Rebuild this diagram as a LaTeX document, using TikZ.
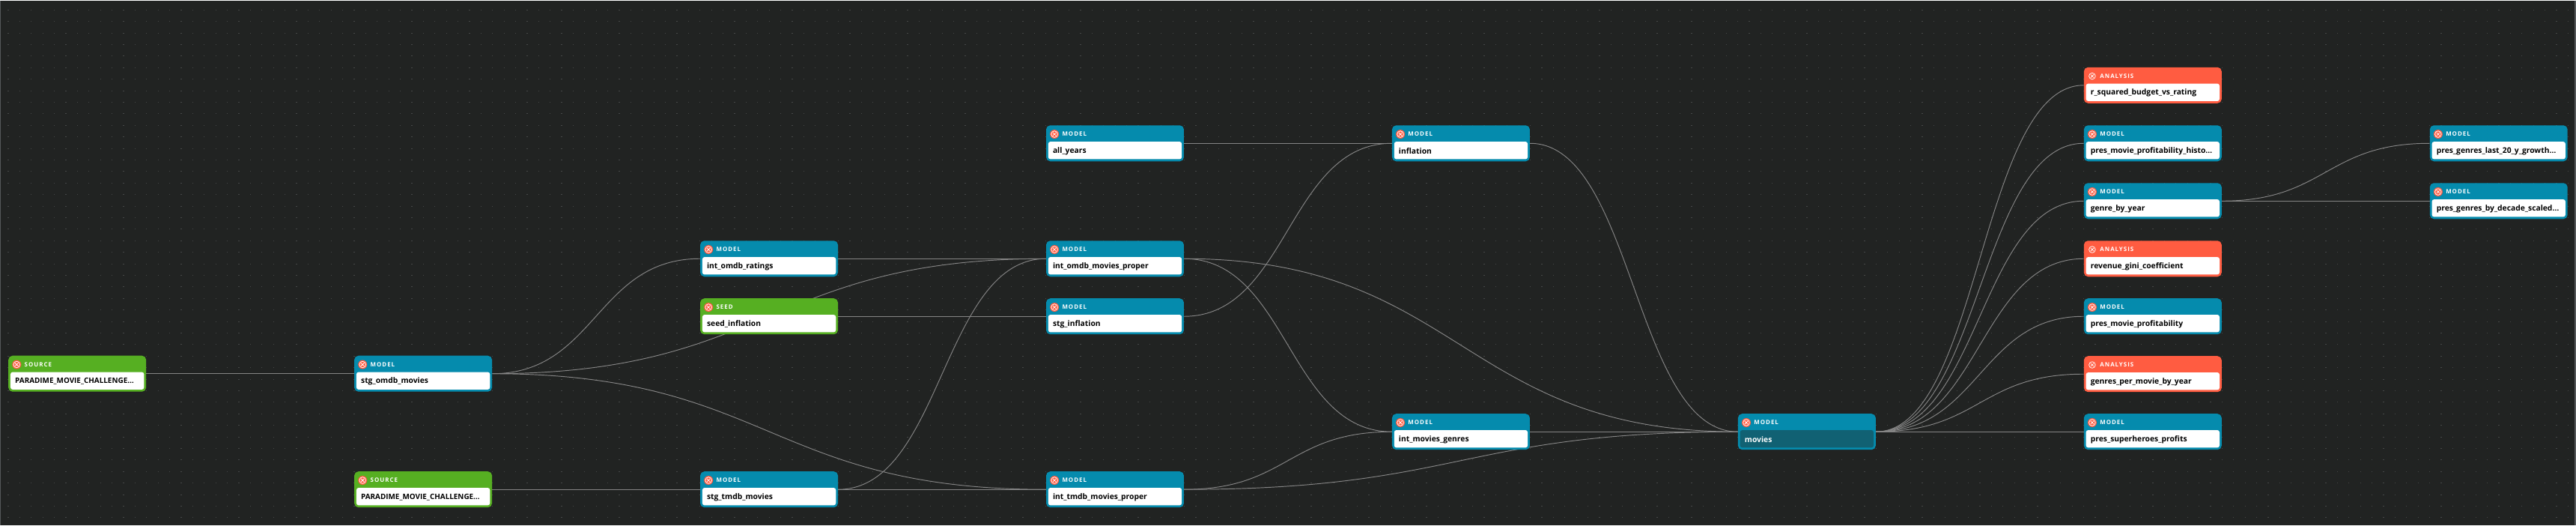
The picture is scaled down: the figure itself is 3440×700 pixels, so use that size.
\documentclass[tikz,border=0pt]{standalone}
\usepackage{fontspec}
\setmainfont{Open Sans}
\usetikzlibrary{calc,backgrounds}
\definecolor{canvas}{HTML}{212322}
\definecolor{griddot}{HTML}{454747}
\definecolor{framecol}{HTML}{55585A}
\definecolor{modelcol}{HTML}{058BAD}
\definecolor{sourcecol}{HTML}{56AF22}
\definecolor{analysiscol}{HTML}{FF5C41}
\definecolor{activecol}{HTML}{116173}
\definecolor{edgecol}{HTML}{858585}
\colorlet{cardbody}{white}
\colorlet{cardtext}{black}
\tikzset{
  x=1pt, y=-1pt,
  edge/.style={draw=edgecol, line width=.95pt},
  card/.style={minimum width=184pt, minimum height=48pt, rounded corners=5.5pt, inner sep=0pt},
  tagtext/.style={anchor=west, inner sep=0pt, text=white, font=\fontsize{7.9}{10}\selectfont\bfseries\addfontfeature{LetterSpace=13}},
  nametext/.style={anchor=west, inner sep=0pt, text=cardtext, font=\fontsize{10.3}{12}\selectfont\bfseries},
}
% card: name, left, top, colour, tag, text
\newcommand{\card}[6]{
  \node[card, anchor=north west, fill=#4] (#1) at (#2,#3) {};
  \fill[cardbody, rounded corners=3pt] ($(#1.north west)+(3,22)$) rectangle ($(#1.south east)+(-3,-3)$);
  \fill[analysiscol] ($(#1.north west)+(11.3,12)$) circle (6pt);
  \draw[white, line width=.75pt] ($(#1.north west)+(11.3,12)$) circle (4.3pt);
  \draw[white, line width=.75pt] ($(#1.north west)+(9.2,9.9)$) -- +(4.2,4.2) ($(#1.north west)+(13.4,9.9)$) -- +(-4.2,4.2);
  \node[tagtext] (#1tag) at ($(#1.north west)+(21.5,12)$) {#5};
  \node[nametext] (#1name) at ($(#1.north west)+(9,34.5)$) {#6};
}
\newcommand{\capsname}{\fontsize{9.9}{12}\selectfont PARADIME\_MOVIE\_CHALLENGE…}
\begin{document}
\begin{tikzpicture}
  \begin{pgfonlayer}{background}
    \fill[canvas] (0,0) rectangle (3440,700);
    \foreach \yy in {0,...,44}
      \draw[griddot, line width=1pt, dash pattern=on 1.2pt off 14.2pt] (10.4,12.7+15.4*\yy) -- (3440,12.7+15.4*\yy);
    \draw[framecol, line width=1.2pt] (.6,0) -- (.6,700) (3439.4,0) -- (3439.4,700);
  \end{pgfonlayer}
  \useasboundingbox (0,0) rectangle (3440,700);

  \card{srcomdb}{11}{474}{sourcecol}{SOURCE}{\capsname}
  \card{stgomdb}{473}{474}{modelcol}{MODEL}{stg\_omdb\_movies}
  \card{srctmdb}{473}{628.5}{sourcecol}{SOURCE}{\capsname}
  \card{intratings}{935}{320.5}{modelcol}{MODEL}{int\_omdb\_ratings}
  \card{seedinfl}{935}{397.5}{sourcecol}{SEED}{seed\_inflation}
  \card{stgtmdb}{935}{628.5}{modelcol}{MODEL}{stg\_tmdb\_movies}
  \card{allyears}{1397}{166.5}{modelcol}{MODEL}{all\_years}
  \card{intomdb}{1397}{320.5}{modelcol}{MODEL}{int\_omdb\_movies\_proper}
  \card{stginfl}{1397}{397.5}{modelcol}{MODEL}{stg\_inflation}
  \card{inttmdb}{1397}{628.5}{modelcol}{MODEL}{int\_tmdb\_movies\_proper}
  \card{inflation}{1859}{166.5}{modelcol}{MODEL}{inflation}
  \card{intgenres}{1859}{551.5}{modelcol}{MODEL}{int\_movies\_genres}
  \colorlet{cardbody}{activecol}
  \colorlet{cardtext}{white}
  \card{movies}{2321}{551.5}{modelcol}{MODEL}{movies}
  \colorlet{cardbody}{white}
  \colorlet{cardtext}{black}
  \card{rsquared}{2783}{89}{analysiscol}{ANALYSIS}{r\_squared\_budget\_vs\_rating}
  \card{profhist}{2783}{166.5}{modelcol}{MODEL}{pres\_movie\_profitability\_histo…}
  \card{genreyear}{2783}{243.5}{modelcol}{MODEL}{genre\_by\_year}
  \card{gini}{2783}{320.5}{analysiscol}{ANALYSIS}{revenue\_gini\_coefficient}
  \card{profit}{2783}{397.5}{modelcol}{MODEL}{pres\_movie\_profitability}
  \card{genresmovie}{2783}{474.5}{analysiscol}{ANALYSIS}{genres\_per\_movie\_by\_year}
  \card{heroes}{2783}{551.5}{modelcol}{MODEL}{pres\_superheroes\_profits}
  \card{growth}{3245}{166.5}{modelcol}{MODEL}{pres\_genres\_last\_20\_y\_growth…}
  \card{decade}{3245}{243.5}{modelcol}{MODEL}{pres\_genres\_by\_decade\_scaled…}

  \begin{pgfonlayer}{background}
    \foreach \src/\dst in {srcomdb/stgomdb, srctmdb/stgtmdb, stgomdb/intratings, stgomdb/intomdb,
        stgomdb/inttmdb, intratings/intomdb, seedinfl/stginfl, stgtmdb/intomdb, stgtmdb/inttmdb,
        allyears/inflation, stginfl/inflation, inflation/movies, intomdb/movies, intomdb/intgenres,
        inttmdb/intgenres, inttmdb/movies, intgenres/movies, movies/rsquared, movies/profhist,
        movies/genreyear, movies/gini, movies/profit, movies/genresmovie, movies/heroes,
        genreyear/growth, genreyear/decade}
      \draw[edge] (\src.east) .. controls ($(\src.east)!.5!(\src.east -| \dst.west)$)
        and ($(\src.east |- \dst.west)!.5!(\dst.west)$) .. (\dst.west);
  \end{pgfonlayer}
\end{tikzpicture}
\end{document}
